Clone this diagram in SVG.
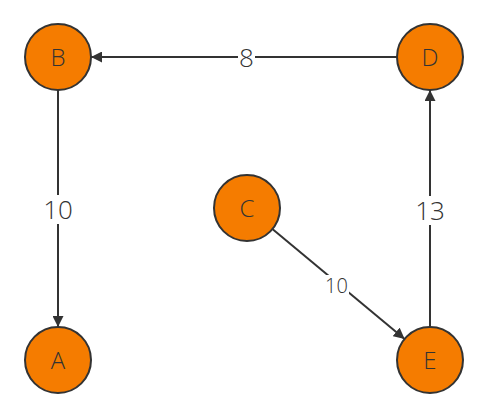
<svg xmlns="http://www.w3.org/2000/svg" width="487" height="419" viewBox="0 0 487 419">
<style>
.node circle{fill:#f57c00;stroke:#333;stroke-width:2}
.node text{font-family:"Open Sans","Noto Sans",sans-serif;font-size:24px;font-weight:300;fill:#333;text-anchor:middle}
.edge line{stroke:#333;stroke-width:2;marker-end:url(#arr)}
.lbl{font-family:"Open Sans","Noto Sans",sans-serif;font-weight:300;fill:#333;text-anchor:middle}
.bg{fill:#fff}
</style>
<defs>
<marker id="arr" viewBox="0 0 10 10" refX="10" refY="5" markerWidth="5.5" markerHeight="5.5" orient="auto" markerUnits="strokeWidth">
<path d="M0,0 L10,5 L0,10 z" fill="#333"/>
</marker>
</defs>
<rect width="487" height="419" fill="#fff"/>
<g id="connectors">
<g class="edge" id="e-DB"><line x1="397" y1="57" x2="91" y2="57"/><rect class="bg" x="238" y="43" width="17" height="29"/><text class="lbl" x="246.5" y="66.5" font-size="26">8</text></g>
<g class="edge" id="e-BA"><line x1="58" y1="90" x2="58" y2="327"/><rect class="bg" x="42" y="195" width="32" height="29"/><text class="lbl" x="58" y="218.5" font-size="26">10</text></g>
<g class="edge" id="e-ED"><line x1="430" y1="327" x2="430" y2="90"/><rect class="bg" x="414" y="196" width="32" height="29"/><text class="lbl" x="430" y="219.5" font-size="26">13</text></g>
<g class="edge" id="e-CE"><line x1="272.4" y1="229.1" x2="404.6" y2="338.9"/><rect class="bg" x="324" y="275" width="25" height="21"/><text class="lbl" x="336.5" y="292.7" font-size="20">10</text></g>
</g>
<g class="node" id="B"><circle cx="58" cy="57" r="33"/><text x="58" y="66">B</text></g>
<g class="node" id="D"><circle cx="430" cy="57" r="33"/><text x="430" y="66">D</text></g>
<g class="node" id="C"><circle cx="247" cy="208" r="33"/><text x="247" y="217">C</text></g>
<g class="node" id="A"><circle cx="58" cy="360" r="33"/><text x="58" y="369">A</text></g>
<g class="node" id="E"><circle cx="430" cy="360" r="33"/><text x="430" y="369">E</text></g>
</svg>
